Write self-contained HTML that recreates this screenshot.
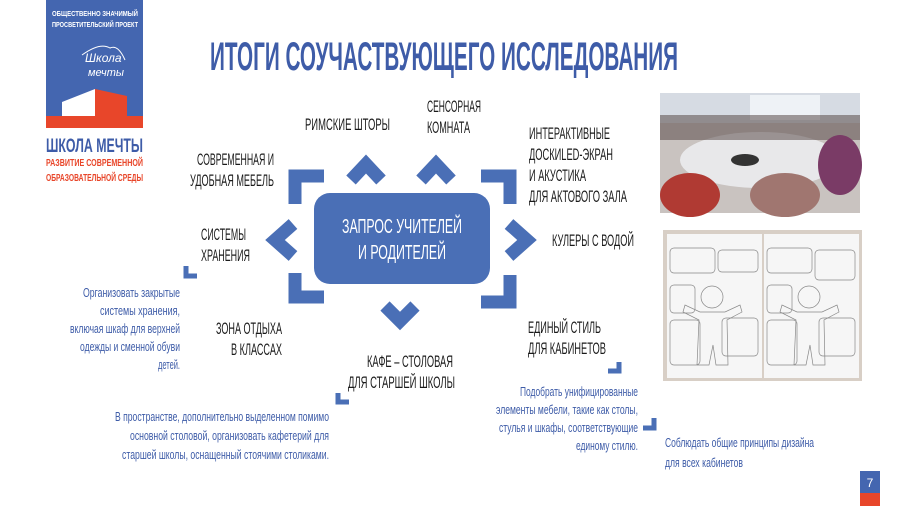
<!DOCTYPE html>
<html><head><meta charset="utf-8"><style>
html,body{margin:0;padding:0;background:#fff;}
body{width:900px;height:506px;overflow:hidden;position:relative;}
svg{position:absolute;left:0;top:0}
text{font-family:"Liberation Sans",sans-serif;}
</style></head><body>
<svg width="900" height="506" viewBox="0 0 900 506">
<!-- logo -->
<rect x="46" y="0" width="97" height="128" fill="#4466b0"/>
<polygon points="62,102 95,89 95,117 62,117" fill="#fff"/>
<polygon points="95,89 127,96 127,117 95,117" fill="#e8462a"/>
<rect x="46" y="116" width="97" height="12" fill="#e8462a"/>
<text x="52" y="16" font-size="7.5" fill="#fff" font-weight="bold" textLength="86" lengthAdjust="spacingAndGlyphs">ОБЩЕСТВЕННО ЗНАЧИМЫЙ</text>
<text x="52" y="27" font-size="7.5" fill="#fff" font-weight="bold" textLength="86" lengthAdjust="spacingAndGlyphs">ПРОСВЕТИТЕЛЬСКИЙ ПРОЕКТ</text>
<text x="85" y="62" font-size="12" fill="#fff" font-style="italic" font-family="Liberation Serif">Школа</text>
<text x="88" y="76" font-size="11" fill="#fff" font-style="italic" font-family="Liberation Serif">мечты</text>
<path d="M82,55 Q100,42 110,48 Q118,44 125,60" stroke="#fff" fill="none" stroke-width="1"/>
<text x="46" y="152" font-size="19" fill="#3e5ca8" font-weight="bold" textLength="97" lengthAdjust="spacingAndGlyphs">ШКОЛА МЕЧТЫ</text>
<text x="46" y="166" font-size="10.5" fill="#e8462a" font-weight="bold" textLength="97" lengthAdjust="spacingAndGlyphs">РАЗВИТИЕ СОВРЕМЕННОЙ</text>
<text x="46" y="181" font-size="10.5" fill="#e8462a" font-weight="bold" textLength="97" lengthAdjust="spacingAndGlyphs">ОБРАЗОВАТЕЛЬНОЙ СРЕДЫ</text>
<!-- title -->
<text x="210" y="70" font-size="40" fill="#3e5ca8" font-weight="bold" textLength="468" lengthAdjust="spacingAndGlyphs">ИТОГИ СОУЧАСТВУЮЩЕГО ИССЛЕДОВАНИЯ</text>
<!-- center -->
<rect x="314" y="193" width="176" height="91" rx="16" fill="#4a6fb6"/>
<text x="342" y="233" font-size="20" fill="#fff" textLength="120" lengthAdjust="spacingAndGlyphs">ЗАПРОС УЧИТЕЛЕЙ</text>
<text x="358" y="259" font-size="20" fill="#fff" textLength="88" lengthAdjust="spacingAndGlyphs">И РОДИТЕЛЕЙ</text>
<!-- chevrons -->
<g stroke="#4a6fb6" stroke-width="13" fill="none" stroke-linejoin="miter" stroke-miterlimit="10">
<polyline points="351,180 366,164 381,180"/>
<polyline points="421,180 436,164 451,180"/>
<polyline points="509,224 527,240 509,256"/>
<polyline points="293,224 275,240 293,256"/>
<polyline points="385,306 400,321 415,306"/>
<polyline points="295,204 295,176 324,176"/>
<polyline points="481,176 510,176 510,204"/>
<polyline points="295,273 295,297 324,297"/>
<polyline points="510,275 510,302 481,302"/>
</g>
<g stroke="#4a6fb6" stroke-width="5" fill="none">
<polyline points="186,266 186,276 197,276"/>
<polyline points="338,393 338,402 349,402"/>
<polyline points="619,362 619,371 608,371"/>
<polyline points="654,418 654,428 643,428"/>
</g>
<!-- labels -->
<g font-size="16.5" fill="#1a1a1a">
<text x="305" y="130" textLength="85" lengthAdjust="spacingAndGlyphs">РИМСКИЕ ШТОРЫ</text>
<text x="427" y="112" textLength="54" lengthAdjust="spacingAndGlyphs">СЕНСОРНАЯ</text>
<text x="427" y="133" textLength="43" lengthAdjust="spacingAndGlyphs">КОМНАТА</text>
<text x="529" y="139" textLength="81" lengthAdjust="spacingAndGlyphs">ИНТЕРАКТИВНЫЕ</text>
<text x="529" y="160" textLength="84" lengthAdjust="spacingAndGlyphs">ДОСКИLED-ЭКРАН</text>
<text x="529" y="181" textLength="57" lengthAdjust="spacingAndGlyphs">И АКУСТИКА</text>
<text x="529" y="202" textLength="98" lengthAdjust="spacingAndGlyphs">ДЛЯ АКТОВОГО ЗАЛА</text>
<text x="197" y="165" textLength="77" lengthAdjust="spacingAndGlyphs">СОВРЕМЕННАЯ И</text>
<text x="190" y="186" textLength="84" lengthAdjust="spacingAndGlyphs">УДОБНАЯ МЕБЕЛЬ</text>
<text x="201" y="240" textLength="45" lengthAdjust="spacingAndGlyphs">СИСТЕМЫ</text>
<text x="201" y="261" textLength="49" lengthAdjust="spacingAndGlyphs">ХРАНЕНИЯ</text>
<text x="552" y="246" textLength="82" lengthAdjust="spacingAndGlyphs">КУЛЕРЫ С ВОДОЙ</text>
<text x="216" y="334" textLength="66" lengthAdjust="spacingAndGlyphs">ЗОНА ОТДЫХА</text>
<text x="231" y="355" textLength="51" lengthAdjust="spacingAndGlyphs">В КЛАССАХ</text>
<text x="528" y="333" textLength="73" lengthAdjust="spacingAndGlyphs">ЕДИНЫЙ СТИЛЬ</text>
<text x="528" y="354" textLength="78" lengthAdjust="spacingAndGlyphs">ДЛЯ КАБИНЕТОВ</text>
<text x="367" y="367" textLength="86" lengthAdjust="spacingAndGlyphs">КАФЕ – СТОЛОВАЯ</text>
<text x="348" y="388" textLength="107" lengthAdjust="spacingAndGlyphs">ДЛЯ СТАРШЕЙ ШКОЛЫ</text>
</g>
<g font-size="12.5" fill="#3e5ca8">
<text x="83" y="297" textLength="97" lengthAdjust="spacingAndGlyphs">Организовать закрытые</text>
<text x="100" y="315" textLength="80" lengthAdjust="spacingAndGlyphs">системы хранения,</text>
<text x="70" y="333" textLength="110" lengthAdjust="spacingAndGlyphs">включая шкаф для верхней</text>
<text x="80" y="351" textLength="100" lengthAdjust="spacingAndGlyphs">одежды и сменной обуви</text>
<text x="158" y="369" textLength="22" lengthAdjust="spacingAndGlyphs">детей.</text>
<text x="115" y="421" textLength="214" lengthAdjust="spacingAndGlyphs">В пространстве, дополнительно выделенном помимо</text>
<text x="130" y="440" textLength="199" lengthAdjust="spacingAndGlyphs">основной столовой, организовать кафетерий для</text>
<text x="122" y="459" textLength="207" lengthAdjust="spacingAndGlyphs">старшей школы, оснащенный стоячими столиками.</text>
<text x="520" y="396" textLength="118" lengthAdjust="spacingAndGlyphs">Подобрать унифицированные</text>
<text x="496" y="414" textLength="142" lengthAdjust="spacingAndGlyphs">элементы мебели, такие как столы,</text>
<text x="499" y="432" textLength="139" lengthAdjust="spacingAndGlyphs">стулья и шкафы, соответствующие</text>
<text x="576" y="450" textLength="62" lengthAdjust="spacingAndGlyphs">единому стилю.</text>
<text x="665" y="447" textLength="149" lengthAdjust="spacingAndGlyphs">Соблюдать общие принципы дизайна</text>
<text x="665" y="467" textLength="78" lengthAdjust="spacingAndGlyphs">для всех кабинетов</text>
</g>
<!-- photo 1 -->
<rect x="660" y="93" width="200" height="120" fill="#c9c3c0"/>
<rect x="660" y="93" width="200" height="30" fill="#d6dbe3"/>
<rect x="750" y="95" width="70" height="25" fill="#eef2f6"/>
<ellipse cx="760" cy="160" rx="80" ry="28" fill="#e8e8ea"/>
<ellipse cx="745" cy="160" rx="14" ry="6" fill="#333"/>
<rect x="660" y="115" width="200" height="25" fill="#5a4a48" opacity="0.55"/>
<ellipse cx="690" cy="195" rx="30" ry="22" fill="#b03a33"/>
<ellipse cx="785" cy="195" rx="35" ry="22" fill="#a07670"/>
<ellipse cx="840" cy="165" rx="22" ry="30" fill="#7a3b66"/>
<!-- photo 2 -->
<rect x="663" y="230" width="199" height="151" fill="#d8cfc6"/>
<rect x="667" y="234" width="95" height="144" fill="#f6f6f6"/>
<rect x="764" y="234" width="95" height="144" fill="#f6f6f6"/>
<g stroke="#888" fill="none" stroke-width="0.7">
<rect x="670" y="248" width="45" height="25" rx="4"/><rect x="718" y="250" width="40" height="22" rx="4"/>
<rect x="670" y="285" width="25" height="28" rx="4"/><rect x="670" y="320" width="30" height="45" rx="4"/><rect x="722" y="318" width="36" height="38" rx="4"/>
<rect x="767" y="248" width="45" height="25" rx="4"/><rect x="815" y="250" width="40" height="30" rx="4"/>
<rect x="767" y="285" width="25" height="28" rx="4"/><rect x="767" y="320" width="30" height="45" rx="4"/><rect x="819" y="318" width="36" height="38" rx="4"/>
<circle cx="712" cy="297" r="11"/><path d="M700,312 L725,312 L740,305 L742,312 L727,320 L728,365 L716,365 L713,345 L709,365 L697,365 L699,320 L683,312 L685,305 Z"/>
<circle cx="809" cy="297" r="11"/><path d="M797,312 L822,312 L837,305 L839,312 L824,320 L825,365 L813,365 L810,345 L806,365 L794,365 L796,320 L780,312 L782,305 Z"/>
</g>
<!-- page number -->
<rect x="860" y="471" width="20" height="22" fill="#4466b0"/>
<rect x="860" y="493" width="20" height="13" fill="#e8462a"/>
<text x="870" y="487" font-size="12" fill="#fff" text-anchor="middle">7</text>
</svg>
</body></html>
